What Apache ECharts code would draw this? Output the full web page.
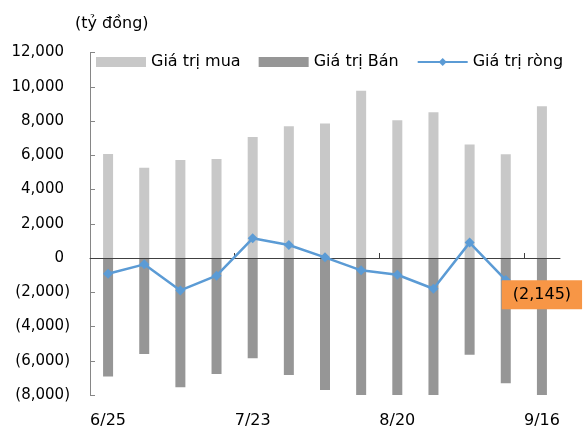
<!DOCTYPE html>
<html><head><meta charset="utf-8">
<script src="https://cdn.jsdelivr.net/npm/echarts@6/dist/echarts.min.js"></script>
<style>html,body{margin:0;padding:0;background:#fff}#c{width:584px;height:429px}</style>
</head><body><div id="c"></div>
<script>
var categories = ['6/25','7/2','7/9','7/16','7/23','7/30','8/6','8/13','8/20','8/27','9/3','9/10','9/16'];
var buyValues  = [6074, 5264, 5719, 5778, 7062, 7694, 7852, 9768, 8049, 8504, 6627, 6054, 8859];
var sellValues = [-6917, -5600, -7551, -6771, -5854, -6829, -7707, -10490, -9025, -10299, -5655, -7309, -11004];
var netValues  = [-917, -371, -1893, -1034, 1150, 761, 39, -722, -976, -1795, 898, -1290, -2145];
var yTicks = {min: -8000, max: 12000, interval: 2000};
var unitLabel = '(tỷ đồng)';
var seriesNames = ['Giá trị mua', 'Giá trị Bán', 'Giá trị ròng'];
var tickBoundaries = [4, 8, 12];

var FONT = "'DejaVu Sans', sans-serif";
function fmtNum(v) {
  var s = Math.abs(v).toLocaleString('en-US');
  return v < 0 ? '(' + s + ')' : s;
}
var lastIdx = netValues.length - 1;
var netData = netValues.map(function (v, i) {
  return i === lastIdx ? {value: v, label: {show: true}} : v;
});

var chart = echarts.init(document.getElementById('c'));
chart.setOption({
  animation: false,
  textStyle: {fontFamily: FONT},
  graphic: [{type: 'text', left: 75, top: 16, style: {text: unitLabel, font: '16px ' + FONT, fill: '#000'}}],
  legend: {
    top: 54, left: 96, padding: 0, itemGap: 18, itemWidth: 50, itemHeight: 10,
    textStyle: {fontSize: 16, color: '#000', fontFamily: FONT},
    data: [{name: seriesNames[0], icon: 'rect'}, {name: seriesNames[1], icon: 'rect'}, {name: seriesNames[2]}]
  },
  grid: {left: 90, right: 24, top: 52.5, bottom: 34, containLabel: false},
  xAxis: [{
    type: 'category', data: categories, position: 'bottom',
    axisLine: {show: false, onZero: false}, axisTick: {show: false},
    axisLabel: {interval: 3, margin: 18, fontSize: 16, color: '#000', fontFamily: FONT},
    splitLine: {show: false}
  }, {
    type: 'value', min: 0, max: categories.length, position: 'bottom', z: 3,
    axisLine: {show: true, onZero: true, lineStyle: {color: '#404040', width: 1}},
    axisTick: {show: true, inside: true, length: 5, customValues: tickBoundaries, lineStyle: {color: '#404040'}},
    axisLabel: {show: false}, splitLine: {show: false}
  }],
  yAxis: {
    type: 'value', min: yTicks.min, max: yTicks.max, interval: yTicks.interval,
    axisLine: {show: true, onZero: false, lineStyle: {color: '#868686'}},
    axisTick: {show: true, inside: true, length: 5, lineStyle: {color: '#868686'}},
    splitLine: {show: false},
    axisLabel: {
      margin: 20, color: '#000', fontSize: 15, fontFamily: FONT,
      formatter: function (v) { return v < 0 ? fmtNum(v) : '{p|' + fmtNum(v) + '}'; },
      rich: {p: {fontSize: 15, color: '#000', fontFamily: FONT, padding: [0, 6, 0, 0]}}
    }
  },
  series: [{
    name: seriesNames[0], type: 'bar', data: buyValues, barWidth: 10, barGap: '-100%',
    itemStyle: {color: '#C8C8C8'}
  }, {
    name: seriesNames[1], type: 'bar', data: sellValues, barWidth: 10, barGap: '-100%',
    itemStyle: {color: '#969696'}
  }, {
    name: seriesNames[2], type: 'line', data: netData, symbol: 'diamond', symbolSize: 10,
    lineStyle: {color: '#5B9BD5', width: 2.5}, itemStyle: {color: '#5B9BD5'},
    label: {
      show: false, position: 'inside', fontSize: 16, color: '#000', fontFamily: FONT,
      backgroundColor: '#F79646', padding: [7, 11, 6, 11],
      formatter: function (p) { return fmtNum(p.value); }
    },
    z: 5
  }]
});
</script></body></html>
